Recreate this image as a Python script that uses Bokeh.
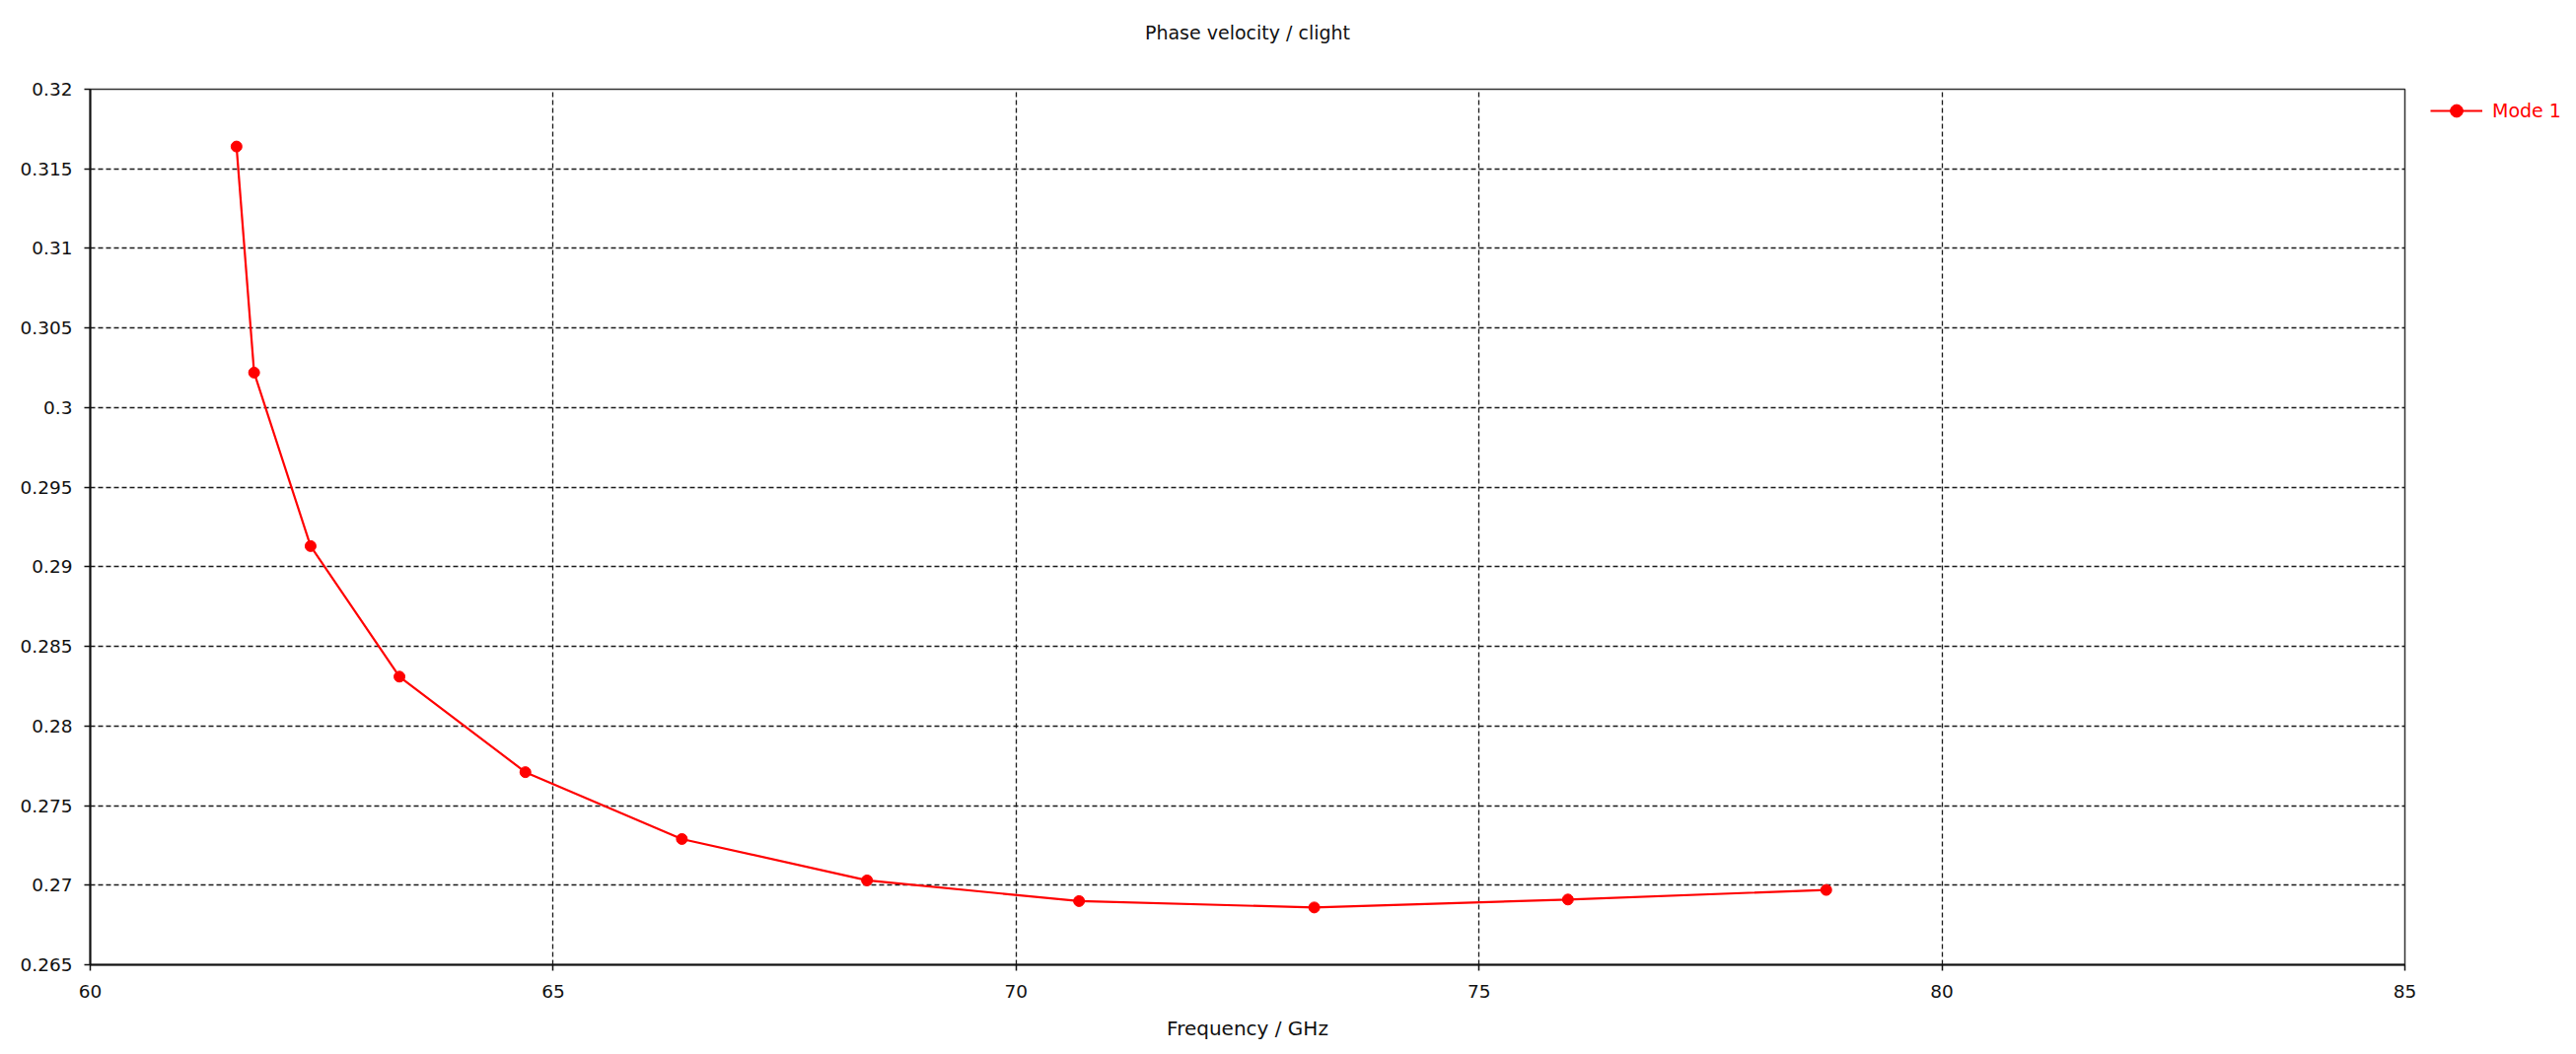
from bokeh.plotting import figure
from bokeh.models import FixedTicker, CustomJSTickFormatter, Legend, LegendItem, Range1d, Title
from bokeh.embed import file_html
from bokeh.resources import INLINE

# ---- data ----
freq_ghz = [61.58, 61.77, 62.38, 63.34, 64.70, 66.39, 68.39, 70.68, 73.22, 75.96, 78.75]
vph_over_c = [0.3164, 0.3022, 0.2913, 0.2831, 0.2771, 0.2729, 0.2703, 0.2690, 0.2686, 0.2691, 0.2697]
x_ticks = [60, 65, 70, 75, 80, 85]
y_ticks = [0.265, 0.27, 0.275, 0.28, 0.285, 0.29, 0.295, 0.3, 0.305, 0.31, 0.315, 0.32]
series_name = "Mode 1"
title_text = "Phase velocity / clight"
x_label = "Frequency / GHz"

FONT = "DejaVu Sans"
RED = "#ff0000"

p = figure(frame_width=2347, frame_height=888, output_backend="svg", toolbar_location=None,
           x_range=Range1d(60, 85), y_range=Range1d(0.265, 0.32),
           min_border_left=91, min_border_right=166, min_border_top=90, min_border_bottom=83,
           title=None, background_fill_color="white", border_fill_color="white")

# blank spacer title next to the frame, then the real title above it
spacer = Title(text=" ", text_font_size="10px", standoff=34)
main_title = Title(text=title_text, align="center", text_font=FONT, text_font_size="19px",
                   text_font_style="normal", text_color="#111111", standoff=0)
p.add_layout(spacer, "above")
p.add_layout(main_title, "above")

line_r = p.line(freq_ghz, vph_over_c, line_color=RED, line_width=2.2)
pts_r = p.scatter(freq_ghz, vph_over_c, size=11, fill_color=RED, line_color=RED, marker="circle")

# axes
for ax in (p.xaxis[0], p.yaxis[0]):
    ax.axis_line_color = "#111111"
    ax.axis_line_width = 2
    ax.major_tick_line_color = "#111111"
    ax.major_tick_line_width = 1.5
    ax.major_tick_out = 6
    ax.major_tick_in = 0
    ax.minor_tick_line_color = None
    ax.major_label_text_font = FONT
    ax.major_label_text_font_size = "18.5px"
    ax.major_label_text_color = "#111111"

p.xaxis.ticker = FixedTicker(ticks=x_ticks)
p.yaxis.ticker = FixedTicker(ticks=y_ticks)
p.yaxis.formatter = CustomJSTickFormatter(code="return tick.toFixed(3).replace(/\\.?0+$/, '')")
p.xaxis.major_label_standoff = 14
p.yaxis.major_label_standoff = 12

p.xaxis.axis_label = x_label
p.xaxis.axis_label_text_font = FONT
p.xaxis.axis_label_text_font_size = "20px"
p.xaxis.axis_label_text_font_style = "normal"
p.xaxis.axis_label_text_color = "#111111"
p.xaxis.axis_label_standoff = 16

# grid
for g in (p.xgrid[0], p.ygrid[0]):
    g.grid_line_color = "#1a1a1a"
    g.grid_line_dash = "5 3"
    g.grid_line_width = 1.3
p.xgrid.ticker = FixedTicker(ticks=x_ticks)
p.ygrid.ticker = FixedTicker(ticks=y_ticks)

p.outline_line_color = "#333333"
p.outline_line_width = 1.5

# legend (outside, to the right of the frame); a blank left title gives the gap
legend = Legend(items=[LegendItem(label=series_name, renderers=[line_r, pts_r])],
                location="top_left", padding=0, margin=6, spacing=0,
                title=" ", title_location="left", title_text_font_size="10px", title_standoff=9,
                glyph_width=53, glyph_height=32, label_height=32, label_standoff=10,
                label_text_font=FONT, label_text_font_size="19px", label_text_color=RED,
                border_line_color=None, background_fill_alpha=0)
p.add_layout(legend, "right")

open("out.html", "w").write(file_html(p, INLINE))
